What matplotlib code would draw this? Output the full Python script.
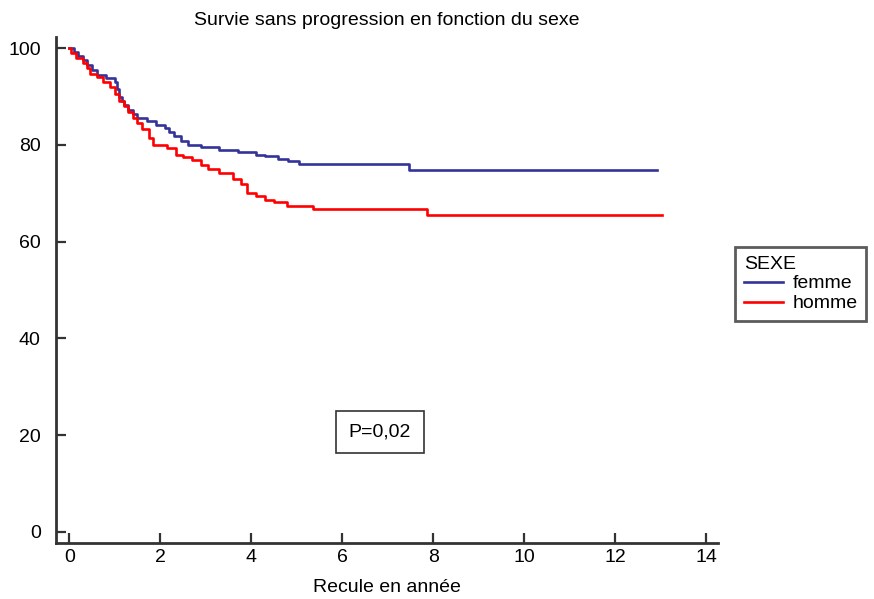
import matplotlib
matplotlib.use('Agg')
import matplotlib.pyplot as plt

plt.rcParams['font.family'] = ['Liberation Sans', 'DejaVu Sans']

# femme (blue) Kaplan-Meier steps
t_femme = [0, 0.1, 0.2, 0.3, 0.4, 0.5, 0.6, 0.8, 1.0, 1.05, 1.1, 1.15, 1.2, 1.3, 1.4,
           1.5, 1.7, 1.9, 2.1, 2.2, 2.3, 2.45, 2.6, 2.9, 3.3, 3.7, 4.1, 4.3, 4.6, 4.8,
           5.05, 7.47, 12.92]
s_femme = [100, 99.2, 98.3, 97.6, 96.5, 95.5, 94.5, 93.8, 93.0, 91.5, 90.0, 89.0, 88.2,
           87.2, 86.3, 85.5, 84.9, 84.2, 83.5, 82.6, 81.8, 80.8, 79.9, 79.5, 79.0, 78.5,
           78.0, 77.6, 77.0, 76.6, 76.0, 74.8, 74.8]

# homme (red)
t_homme = [0, 0.05, 0.15, 0.3, 0.4, 0.45, 0.6, 0.75, 0.9, 1.0, 1.1, 1.2, 1.3, 1.4, 1.5,
           1.6, 1.75, 1.85, 2.15, 2.35, 2.5, 2.7, 2.9, 3.05, 3.3, 3.6, 3.78, 3.9, 4.1,
           4.3, 4.5, 4.78, 5.36, 7.87, 13.02]
s_homme = [100, 99.0, 98.0, 96.9, 95.8, 94.6, 94.0, 93.0, 92.0, 90.5, 89.0, 88.0, 86.8,
           85.6, 84.6, 83.2, 81.5, 80.0, 79.3, 77.9, 77.4, 76.9, 75.8, 75.0, 74.2, 73.0,
           72.0, 70.0, 69.5, 68.6, 68.1, 67.3, 66.7, 65.5, 65.5]

x_ticks = [0, 2, 4, 6, 8, 10, 12, 14]
y_ticks = [0, 20, 40, 60, 80, 100]

fig = plt.figure(figsize=(8.74, 5.99), dpi=100)
ax = fig.add_axes([0.0641, 0.0935, 0.7574, 0.8447])

ax.step(t_femme, s_femme, where='post', color='#333399', lw=1.9, label='femme')
ax.step(t_homme, s_homme, where='post', color='#ff0000', lw=1.9, label='homme')

ax.set_xlim(-0.29, 14.26)
ax.set_ylim(-2.3, 102.3)
ax.set_xticks(x_ticks)
ax.set_yticks(y_ticks)

for side in ['top', 'right']:
    ax.spines[side].set_visible(False)
for side in ['left', 'bottom']:
    ax.spines[side].set_color('#333333')
    ax.spines[side].set_linewidth(2)
ax.tick_params(direction='in', length=7, width=1.6, color='#333333', labelsize=14)
ax.tick_params(axis='y', pad=11)
ax.tick_params(axis='x', pad=4)

ax.set_title('Survie sans progression en fonction du sexe', fontsize=14, pad=9)
ax.set_xlabel('Recule en année', fontsize=14, labelpad=10)

ax.text(6.83, 20.7, 'P=0,02', fontsize=14, ha='center', va='center',
        bbox=dict(boxstyle='square,pad=0.65', fc='white', ec='#333333', lw=1.2))

leg = fig.legend(loc='upper left', bbox_to_anchor=(0.841, 0.588), title='SEXE',
                 fontsize=14, title_fontsize=14, handlelength=2.0,
                 frameon=True, fancybox=False, borderpad=0.45, labelspacing=0.12,
                 handletextpad=0.5, alignment='left', borderaxespad=0)
leg.get_frame().set_edgecolor('#333333')
leg.get_frame().set_linewidth(2)

plt.savefig('out.png', dpi=100)
plt.close()
